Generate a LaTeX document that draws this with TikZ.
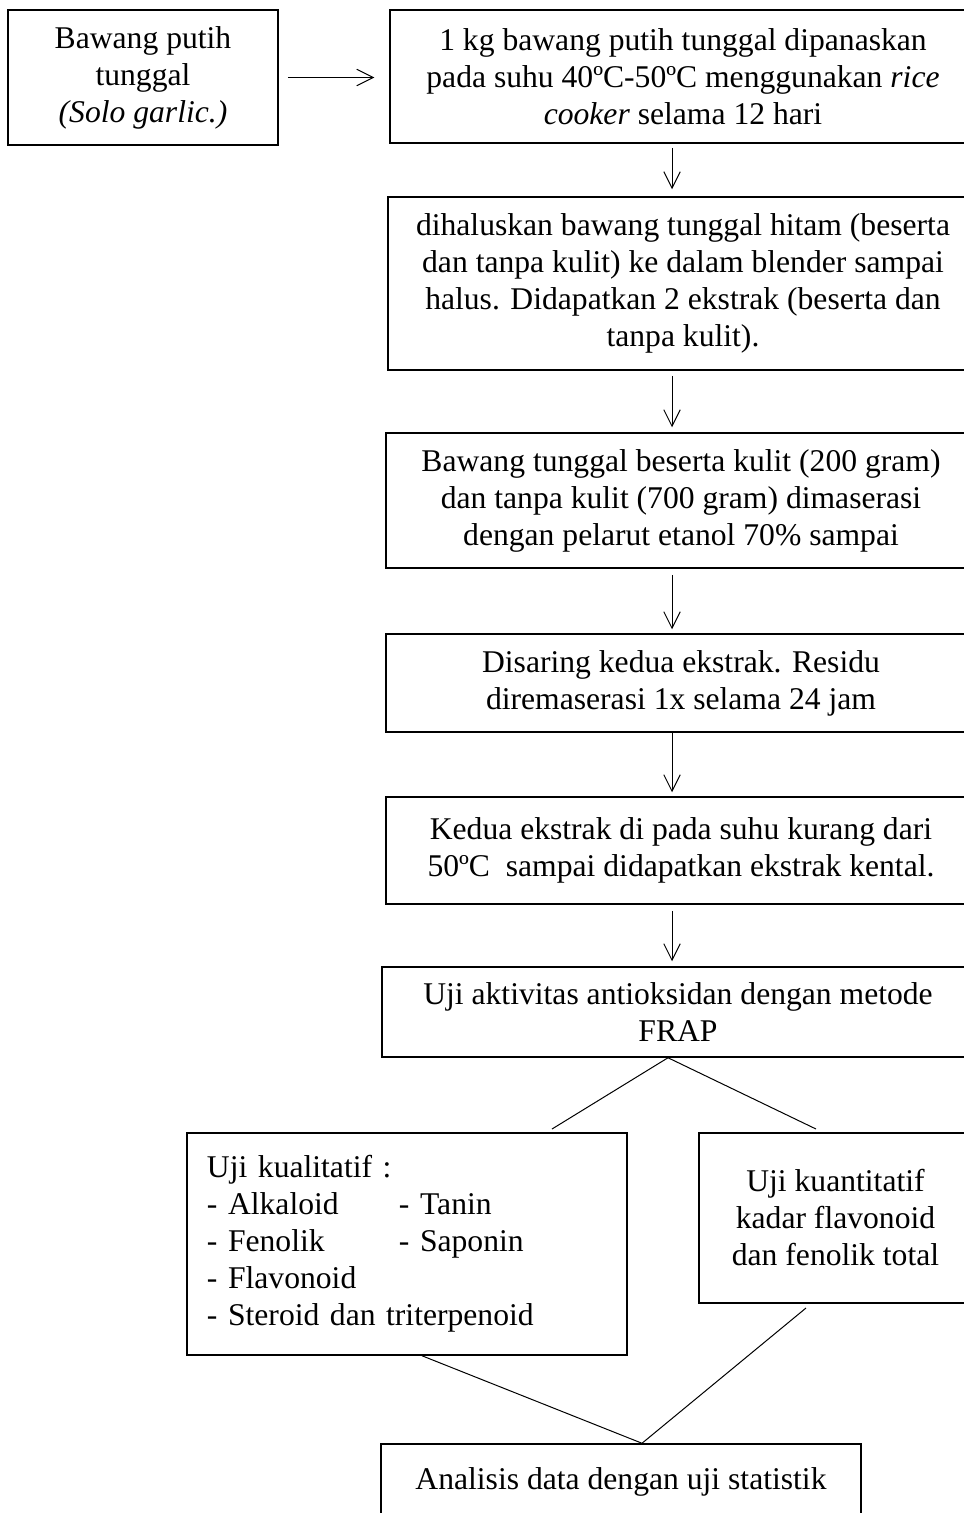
\documentclass[tikz,border=0pt]{standalone}
\usepackage{fontspec}
\setmainfont{Liberation Serif}
\usetikzlibrary{arrows.meta}
% box from its corners: name, x1, y1, x2, y2, style, text
\newcommand{\flowbox}[7]{
\node[#6, minimum width={(#4-(#2))*0.4pt}, minimum height={(#5-(#3))*0.4pt}] (#1) at ({(#2+#4)/2},{(#3+#5)/2}) {#7};
}

\begin{document}
\begin{tikzpicture}[x=0.4pt, y=-0.4pt,
% process boxes
box/.style={draw, line width=0.6pt, inner sep=0, align=center, font=\fontsize{12.65}{14.8}\selectfont},
listbox/.style={box, align=left, text width=160pt},
% connectors
link/.style={line width=0.4pt},
flow/.style={link, -{Straight Barb[length=6.6pt, width=6.6pt]}}
]

\useasboundingbox (0,0) rectangle (963,1513);

% column of the down arrows, forks
\coordinate (spine) at (672,0);
\coordinate (fork) at (668,0);
\coordinate (merge) at (642,0);
\coordinate (qualout) at (422,0);
\coordinate (qualin) at (552,1129);
\coordinate (quantin) at (816,1129);
\coordinate (quantout) at (806,1308);

% steps
\flowbox{garlic}{8}{10}{278}{145}{box}{Bawang putih\\ tunggal\\ \textit{(Solo garlic.)}}
\flowbox{heat}{390}{10}{976}{143}{box}{1 kg bawang putih tunggal dipanaskan\\ pada suhu 40ºC-50ºC menggunakan \textit{rice}\\ \textit{cooker} selama 12 hari}
\flowbox{blend}{388}{197}{978}{370}{box}{dihaluskan bawang tunggal hitam (beserta\\ dan tanpa kulit) ke dalam blender sampai\\ halus. Didapatkan 2 ekstrak (beserta dan\\ tanpa kulit).}
\flowbox{macerate}{386}{433}{976}{568}{box}{Bawang tunggal beserta kulit (200 gram)\\ dan tanpa kulit (700 gram) dimaserasi\\ dengan pelarut etanol 70\% sampai}
\flowbox{filter}{386}{634}{976}{732}{box}{Disaring kedua ekstrak. Residu\\ diremaserasi 1x selama 24 jam}
\flowbox{evap}{386}{797}{976}{904}{box}{Kedua ekstrak di pada suhu kurang dari\\ 50ºC\ \ sampai didapatkan ekstrak kental.}
\flowbox{frap}{382}{967}{974}{1057}{box}{Uji aktivitas antioksidan dengan metode\\ FRAP}

% tests
\flowbox{qual}{187}{1133}{627}{1355}{listbox}{Uji kualitatif :\\
\makebox[76.8pt][l]{- Alkaloid}- Tanin\\
\makebox[76.8pt][l]{- Fenolik}- Saponin\\
- Flavonoid\\
- Steroid dan triterpenoid\\[4pt]}
\flowbox{quant}{699}{1133}{972}{1303}{box}{Uji kuantitatif\\ kadar flavonoid\\ dan fenolik total}
\flowbox{stat}{381}{1444}{861}{1520}{box}{Analisis data dengan uji statistik}

% arrows
\draw[flow, shorten <=3.6pt, shorten >=6pt] (garlic.east) -- (garlic.east -| heat.west);
\draw[flow, shorten <=1.6pt, shorten >=2.8pt] (heat.south -| spine) -- (blend.north -| spine);
\draw[flow, shorten <=2pt, shorten >=2pt] (blend.south -| spine) -- (macerate.north -| spine);
\draw[flow, shorten <=2.4pt, shorten >=1.6pt] (macerate.south -| spine) -- (filter.north -| spine);
\draw[flow, shorten >=1.6pt] (filter.south -| spine) -- (evap.north -| spine);
\draw[flow, shorten <=2.4pt, shorten >=2pt] (evap.south -| spine) -- (frap.north -| spine);

% split and join
\draw[link] (qualin) -- (frap.south -| fork) -- (quantin);
\draw[link] (qual.south -| qualout) -- (stat.north -| merge) -- (quantout);

\end{tikzpicture}
\end{document}
